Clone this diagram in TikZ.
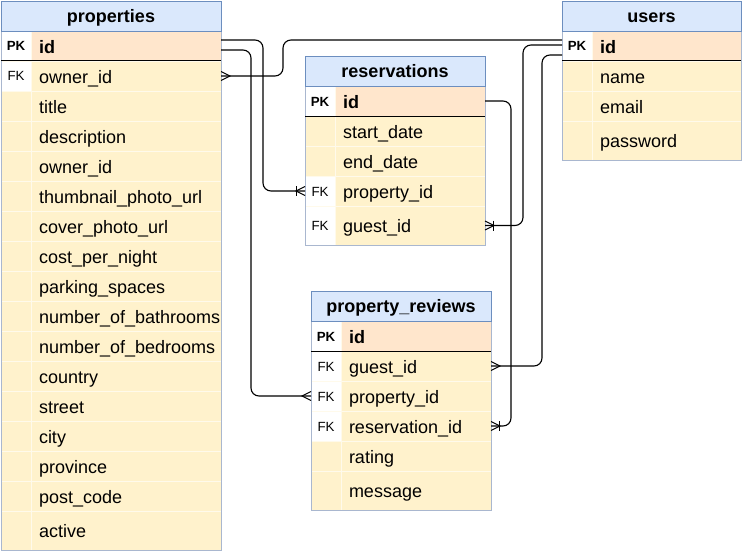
\documentclass[tikz,border=0pt]{standalone}
\usepackage{fontspec}
\setmainfont{Liberation Sans}
\definecolor{hdrfill}{HTML}{DAE8FC}
\definecolor{hdrline}{HTML}{6C8EBF}
\definecolor{pkfill}{HTML}{FFE6CC}
\definecolor{rowfill}{HTML}{FFF2CC}
\definecolor{cellline}{HTML}{FFFAEB}
\definecolor{bodyline}{HTML}{A9B7CF}
\newcommand\fldfont{\fontsize{18}{20}\selectfont}
\newcommand\keyfont{\fontsize{13.3}{15}\selectfont}
\newcommand\hdrfont{\fontsize{18}{20}\selectfont\bfseries}
\newcommand\ftxt[2]{\makebox[#1pt][l]{\hspace{8pt}#2}}
\newcommand\ktxt[1]{\makebox[30pt]{#1}}
\begin{document}
\begin{tikzpicture}[x=1pt,y=-1pt,
  conn/.style={line width=1.1pt, draw=black, rounded corners=8pt},
  ermark/.style={line width=1.1pt, draw=black},
  hdr/.style={anchor=north west, fill=hdrfill, draw=hdrline, line width=0.8pt, minimum height=30pt, inner sep=0pt, outer sep=0pt, font=\hdrfont, text height=17pt, text depth=4pt},
  cell/.style={anchor=north west, draw=cellline, line width=0.6pt, inner sep=0pt, outer sep=0pt, minimum height=30pt},
  kc/.style={cell, minimum width=30pt, font=\keyfont, text height=10pt, text depth=0pt},
  fc/.style={cell, font=\fldfont, text height=18pt, text depth=4pt},
  pkk/.style={kc, fill=white, font={\keyfont\bfseries}},
  fkk/.style={kc, fill=white},
  nok/.style={kc, fill=rowfill},
  pkf/.style={fc, fill=pkfill, font={\fldfont\bfseries}},
  nf/.style={fc, fill=rowfill},
  tall/.style={minimum height=39pt},
  bodyl/.style={draw=bodyline, line width=0.8pt},
  pkline/.style={draw=black, line width=1pt},
  crowW/.pic={\draw[ermark] (0,-4.5) -- (-9,0) -- (0,4.5);},
  crowE/.pic={\draw[ermark] (0,-4.5) -- (9,0) -- (0,4.5);},
  barW/.pic={\draw[ermark] (-8.5,-5) -- (-8.5,5);},
  barE/.pic={\draw[ermark] (8.5,-5) -- (8.5,5);}
]
\useasboundingbox (0,0) rectangle (744,551);

% ---------------- properties ----------------
\node[pkk] (p-k0) at (1,31) {\ktxt{PK}};
\node[pkf] (p-f0) at (31,31) {\ftxt{190}{id}};
\node[fkk] (p-k1) at (1,61) {\ktxt{FK}};
\node[nf] (p-f1) at (31,61) {\ftxt{190}{owner\_id}};
\node[nok] (p-k2) at (1,91) {};
\node[nf] (p-f2) at (31,91) {\ftxt{190}{title}};
\node[nok] (p-k3) at (1,121) {};
\node[nf] (p-f3) at (31,121) {\ftxt{190}{description}};
\node[nok] (p-k4) at (1,151) {};
\node[nf] (p-f4) at (31,151) {\ftxt{190}{owner\_id}};
\node[nok] (p-k5) at (1,181) {};
\node[nf] (p-f5) at (31,181) {\ftxt{190}{thumbnail\_photo\_url}};
\node[nok] (p-k6) at (1,211) {};
\node[nf] (p-f6) at (31,211) {\ftxt{190}{cover\_photo\_url}};
\node[nok] (p-k7) at (1,241) {};
\node[nf] (p-f7) at (31,241) {\ftxt{190}{cost\_per\_night}};
\node[nok] (p-k8) at (1,271) {};
\node[nf] (p-f8) at (31,271) {\ftxt{190}{parking\_spaces}};
\node[nok] (p-k9) at (1,301) {};
\node[nf] (p-f9) at (31,301) {\ftxt{190}{number\_of\_bathrooms}};
\node[nok] (p-k10) at (1,331) {};
\node[nf] (p-f10) at (31,331) {\ftxt{190}{number\_of\_bedrooms}};
\node[nok] (p-k11) at (1,361) {};
\node[nf] (p-f11) at (31,361) {\ftxt{190}{country}};
\node[nok] (p-k12) at (1,391) {};
\node[nf] (p-f12) at (31,391) {\ftxt{190}{street}};
\node[nok] (p-k13) at (1,421) {};
\node[nf] (p-f13) at (31,421) {\ftxt{190}{city}};
\node[nok] (p-k14) at (1,451) {};
\node[nf] (p-f14) at (31,451) {\ftxt{190}{province}};
\node[nok] (p-k15) at (1,481) {};
\node[nf] (p-f15) at (31,481) {\ftxt{190}{post\_code}};
\node[nok,tall] (p-k16) at (1,511) {};
\node[nf,tall] (p-f16) at (31,511) {\ftxt{190}{active}};
\draw[bodyl] (p-k0.north west) rectangle (p-f16.south east);
\node[hdr, minimum width=220pt] (p-head) at (1,1) {properties};
\draw[pkline] (p-k0.south west) -- (p-f0.south east);

% ---------------- users ----------------
\node[pkk] (u-k0) at (562,31) {\ktxt{PK}};
\node[pkf] (u-f0) at (592,31) {\ftxt{149}{id}};
\node[nok] (u-k1) at (562,61) {};
\node[nf] (u-f1) at (592,61) {\ftxt{149}{name}};
\node[nok] (u-k2) at (562,91) {};
\node[nf] (u-f2) at (592,91) {\ftxt{149}{email}};
\node[nok,tall] (u-k3) at (562,121) {};
\node[nf,tall] (u-f3) at (592,121) {\ftxt{149}{password}};
\draw[bodyl] (u-k0.north west) rectangle (u-f3.south east);
\node[hdr, minimum width=179pt] (u-head) at (562,1) {users};
\draw[pkline] (u-k0.south west) -- (u-f0.south east);

% ---------------- reservations ----------------
\node[pkk] (r-k0) at (305,86) {\ktxt{PK}};
\node[pkf] (r-f0) at (335,86) {\ftxt{150}{id}};
\node[nok] (r-k1) at (305,116) {};
\node[nf] (r-f1) at (335,116) {\ftxt{150}{start\_date}};
\node[nok] (r-k2) at (305,146) {};
\node[nf] (r-f2) at (335,146) {\ftxt{150}{end\_date}};
\node[fkk] (r-k3) at (305,176) {\ktxt{FK}};
\node[nf] (r-f3) at (335,176) {\ftxt{150}{property\_id}};
\node[fkk,tall] (r-k4) at (305,206) {\ktxt{FK}};
\node[nf,tall] (r-f4) at (335,206) {\ftxt{150}{guest\_id}};
\draw[bodyl] (r-k0.north west) rectangle (r-f4.south east);
\node[hdr, minimum width=180pt] (r-head) at (305,56) {reservations};
\draw[pkline] (r-k0.south west) -- (r-f0.south east);

% ---------------- property_reviews ----------------
\node[pkk] (v-k0) at (311,321) {\ktxt{PK}};
\node[pkf] (v-f0) at (341,321) {\ftxt{150}{id}};
\node[fkk] (v-k1) at (311,351) {\ktxt{FK}};
\node[nf] (v-f1) at (341,351) {\ftxt{150}{guest\_id}};
\node[fkk] (v-k2) at (311,381) {\ktxt{FK}};
\node[nf] (v-f2) at (341,381) {\ftxt{150}{property\_id}};
\node[fkk] (v-k3) at (311,411) {\ktxt{FK}};
\node[nf] (v-f3) at (341,411) {\ftxt{150}{reservation\_id}};
\node[nok] (v-k4) at (311,441) {};
\node[nf] (v-f4) at (341,441) {\ftxt{150}{rating}};
\node[nok,tall] (v-k5) at (311,471) {};
\node[nf,tall] (v-f5) at (341,471) {\ftxt{150}{message}};
\draw[bodyl] (v-k0.north west) rectangle (v-f5.south east);
\node[hdr, minimum width=180pt] (v-head) at (311,291) {property\_reviews};
\draw[pkline] (v-k0.south west) -- (v-f0.south east);

% ---------------- connectors ----------------
\coordinate (x1) at (263,0);
\coordinate (x2) at (251,0);
\coordinate (x3) at (283,0);
\coordinate (x4) at (523,0);
\coordinate (x5) at (542,0);
\coordinate (x6) at (511,0);

% properties.id -> reservations.property_id
\draw[conn] ([yshift=6pt]p-f0.east) -| (x1 |- r-k3.west) -- (r-k3.west);
\pic at (r-k3.west) {crowW};
\pic at (r-k3.west) {barW};

% properties.id -> property_reviews.property_id
\draw[conn] ([yshift=-4pt]p-f0.east) -| (x2 |- v-k2.west) -- (v-k2.west);
\pic at (v-k2.west) {crowW};

% users.id -> properties.owner_id
\draw[conn] ([yshift=6pt]u-k0.west) -| (x3 |- p-f1.east) -- (p-f1.east);
\pic at (p-f1.east) {crowE};

% users.id -> reservations.guest_id
\draw[conn] ([yshift=1pt]u-k0.west) -| (x4 |- r-f4.east) -- (r-f4.east);
\pic at (r-f4.east) {crowE};
\pic at (r-f4.east) {barE};

% users.id -> property_reviews.guest_id
\draw[conn] ([yshift=-9pt]u-k0.west) -| (x5 |- v-f1.east) -- (v-f1.east);
\pic at (v-f1.east) {crowE};

% reservations.id -> property_reviews.reservation_id
\draw[conn] (r-f0.east) -| (x6 |- v-f3.east) -- (v-f3.east);
\pic at (v-f3.east) {crowE};
\pic at (v-f3.east) {barE};
\end{tikzpicture}
\end{document}
